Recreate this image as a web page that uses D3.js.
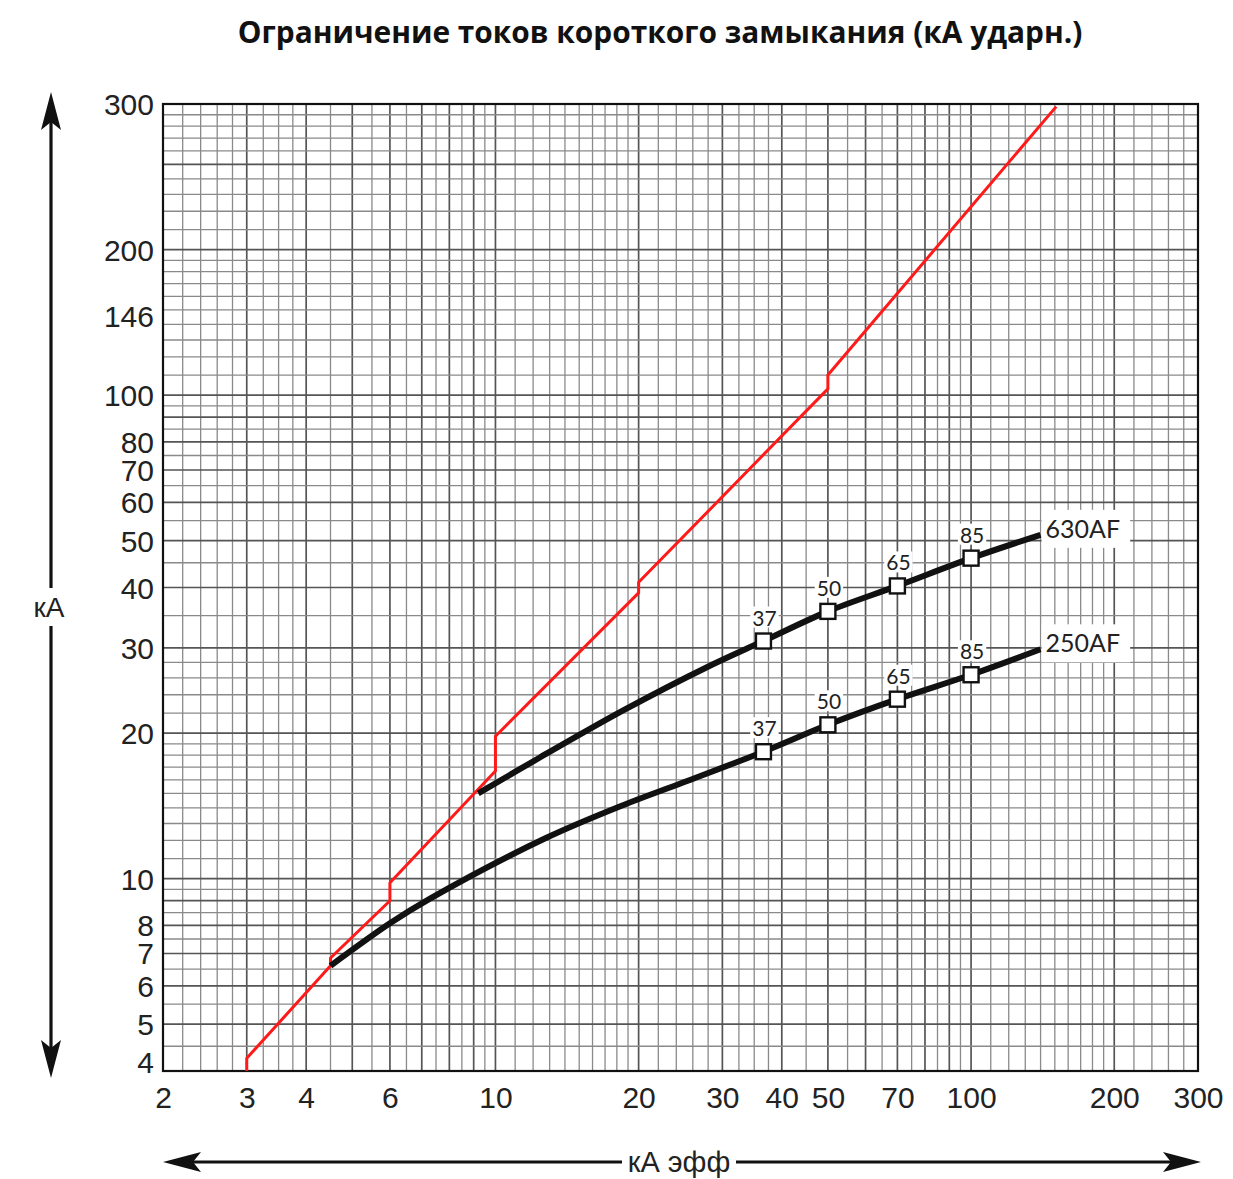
<!DOCTYPE html>
<html>
<head>
<meta charset="utf-8">
<script src="https://cdn.jsdelivr.net/npm/d3@7"></script>
<style>
  html, body { margin: 0; padding: 0; background: #fff; }
  svg { display: block; }
</style>
</head>
<body>
<svg id="chart" width="1233" height="1179"></svg>
<script>
// ---------- data ----------
const xTickValues = [2, 3, 4, 6, 10, 20, 30, 40, 50, 70, 100, 200, 300];
const yTickValues = [4, 5, 6, 7, 8, 10, 20, 30, 40, 50, 60, 70, 80, 100, 146, 200, 400];
const yTickLabels = ["4", "5", "6", "7", "8", "10", "20", "30", "40", "50", "60", "70", "80", "100", "146", "200", "300"];

// red peak-factor line (kA rms -> kA peak)
const redX = [3, 3, 4.5, 4.5, 6, 6, 10, 10, 20, 20, 50, 50, 151];
const redY = [4.0, 4.25, 6.6, 6.85, 9.0, 9.8, 16.7, 19.7, 39.0, 41.0, 103, 110, 395];

// 630AF limited current
const af630X = [9.2, 12.4, 18.6, 27.9, 36.6, 50, 70, 100, 140];
const af630Y = [15.0, 17.8, 22.3, 27.4, 31.0, 35.7, 40.3, 46.0, 51.4];

// 250AF limited current
const af250X = [4.5, 6.0, 7.3, 12.7, 18.6, 24.8, 36.6, 50, 70, 100, 140];
const af250Y = [6.6, 8.08, 9.1, 12.1, 14.2, 15.8, 18.3, 20.8, 23.5, 26.4, 29.8];

// markers
const markerX = [36.6, 50, 70, 100];
const markerLabels = ["37", "50", "65", "85"];
const marker630Y = [31.0, 35.7, 40.3, 46.0];
const marker250Y = [18.3, 20.8, 23.5, 26.4];

const seriesNames = ["630AF", "250AF"];
const titleText = "Ограничение токов короткого замыкания (кА ударн.)";
const xTitle = "кА эфф";
const yTitle = "кА";

// ---------- layout ----------
const svg = d3.select("#chart");
const M = { l: 163, r: 1198, t: 104, b: 1071 };
const x = d3.scaleLog().domain([2, 300]).range([M.l, M.r]);
const y = d3.scaleLog().domain([4, 400]).range([M.b, M.t]);

// grid subdivision rules (graph paper), per decade
function gridValues(domain, rulesFor) {
  const out = [];
  for (let d = 1; d <= 1000; d *= 10) {
    rulesFor(d).forEach(([a, b, s]) => {
      for (let m = a; m < b - 1e-9; m += s) {
        const v = +(m * d).toPrecision(6);
        if (v > domain[0] * 1.0001 && v < domain[1] * 0.9999) {
          out.push({ v, major: Math.abs(m - Math.round(m)) < 1e-6 });
        }
      }
    });
  }
  return out;
}
const xGrid = gridValues(x.domain(), d => [[1, 2, 0.1], [2, 3, 0.2], [3, 4, 0.25], [4, 10, 0.5]]);
const yGrid = gridValues(y.domain(), d => d === 100
  ? [[1, 2, 0.1], [2, 4, 0.2], [4, 10, 0.5]]
  : [[1, 2, 0.1], [2, 3, 0.2], [3, 10, 0.5]]);

const minorC = "#8a8a8a", majorC = "#555";
const grid = svg.append("g");
grid.selectAll("line.vx").data(xGrid).join("line")
  .attr("x1", d => x(d.v)).attr("x2", d => x(d.v))
  .attr("y1", M.t).attr("y2", M.b)
  .attr("stroke", d => d.major ? majorC : minorC)
  .attr("stroke-width", d => d.major ? 1.7 : 1.3);
grid.selectAll("line.hy").data(yGrid).join("line")
  .attr("x1", M.l).attr("x2", M.r)
  .attr("y1", d => y(d.v)).attr("y2", d => y(d.v))
  .attr("stroke", d => d.major ? majorC : minorC)
  .attr("stroke-width", d => d.major ? 1.7 : 1.3);

// frame
svg.append("rect")
  .attr("x", M.l).attr("y", M.t)
  .attr("width", M.r - M.l).attr("height", M.b - M.t)
  .attr("fill", "none").attr("stroke", "#111").attr("stroke-width", 2.2);

// ---------- axes ----------
const tickFont = "'Liberation Sans', Arial, sans-serif";
const xAxis = svg.append("g")
  .attr("transform", `translate(0,${M.b + 16})`)
  .call(d3.axisBottom(x).tickValues(xTickValues).tickFormat(d => String(d)).tickSize(0));
xAxis.select(".domain").remove();
xAxis.selectAll("text")
  .attr("font-family", tickFont).attr("font-size", 30).attr("fill", "#222")
  .attr("dy", "0.71em").attr("y", 0);

const yAxis = svg.append("g")
  .attr("transform", `translate(${M.l - 9},0)`)
  .call(d3.axisLeft(y).tickValues(yTickValues).tickFormat((d, i) => yTickLabels[i]).tickSize(0));
yAxis.select(".domain").remove();
yAxis.selectAll("text")
  .attr("font-family", tickFont).attr("font-size", 30).attr("fill", "#222")
  .attr("x", 0).attr("dy", (d, i) => i === 0 ? "0.05em" : "0.35em");

// ---------- curves ----------
const lineGen = d3.line().x(d => x(d[0])).y(d => y(d[1]));
const smooth = d3.line().x(d => x(d[0])).y(d => y(d[1])).curve(d3.curveCatmullRom.alpha(0.5));

svg.append("path")
  .datum(redX.map((v, i) => [v, redY[i]]))
  .attr("d", lineGen)
  .attr("fill", "none").attr("stroke", "#ff1a1a").attr("stroke-width", 3)
  .attr("stroke-linejoin", "round");

const curves = [
  { name: seriesNames[0], xs: af630X, ys: af630Y, my: marker630Y },
  { name: seriesNames[1], xs: af250X, ys: af250Y, my: marker250Y }
];

const labelFont = "Lato, 'Open Sans', sans-serif";

curves.forEach(c => {
  svg.append("path")
    .datum(c.xs.map((v, i) => [v, c.ys[i]]))
    .attr("d", smooth)
    .attr("fill", "none").attr("stroke", "#111").attr("stroke-width", 6)
    .attr("stroke-linecap", "butt");
});

curves.forEach(c => {
  const g = svg.append("g");
  markerX.forEach((mx, i) => {
    const px = x(mx), py = y(c.my[i]);
    g.append("rect")
      .attr("x", px - 7.5).attr("y", py - 7.5)
      .attr("width", 15).attr("height", 15)
      .attr("fill", "#fff").attr("stroke", "#111").attr("stroke-width", 2.4);
    const t = g.append("text")
      .attr("x", px + 1).attr("y", py - 24)
      .attr("text-anchor", "middle").attr("dominant-baseline", "central")
      .attr("font-family", labelFont).attr("font-size", 21).attr("fill", "#222")
      .text(markerLabels[i]);
    const bb = t.node().getBBox();
    g.insert("rect", "text")
      .attr("x", bb.x - 2).attr("y", bb.y + 2)
      .attr("width", bb.width + 4).attr("height", bb.height - 4)
      .attr("fill", "#fff");
  });
  const lx = x(c.xs[c.xs.length - 1]) + 5;
  const ly = y(c.ys[c.ys.length - 1]) - 7;
  const bg = svg.append("rect");
  const t = svg.append("text")
    .attr("x", lx).attr("y", ly)
    .attr("dominant-baseline", "central")
    .attr("font-family", labelFont).attr("font-size", 25).attr("fill", "#222")
    .text(c.name);
  const bb = t.node().getBBox();
  bg.attr("x", bb.x - 4).attr("y", bb.y - 3)
    .attr("width", bb.width + 14).attr("height", bb.height + 8)
    .attr("fill", "#fff");
});

// ---------- title ----------
const title = svg.append("text")
  .attr("x", 660).attr("y", 31)
  .attr("text-anchor", "middle").attr("dominant-baseline", "central")
  .attr("font-family", "'Open Sans', sans-serif").attr("font-weight", 700)
  .attr("font-size", 25).attr("fill", "#111")
  .text(titleText);
const tw = title.node().getComputedTextLength();
title.attr("font-size", 25 * 845 / tw);

// ---------- axis arrows ----------
function arrowHead(tipX, tipY, angleDeg) {
  const pts = [[0, 0], [-38, -10], [-30, 0], [-38, 10]];
  const a = angleDeg * Math.PI / 180;
  const p = pts.map(([u, v]) => [tipX + u * Math.cos(a) - v * Math.sin(a), tipY + u * Math.sin(a) + v * Math.cos(a)]);
  svg.append("path").attr("d", "M" + p.map(q => q.join(",")).join("L") + "Z").attr("fill", "#111");
}
const arrowStroke = 3.2;
const ax = 51;
svg.append("line").attr("x1", ax).attr("x2", ax).attr("y1", 115).attr("y2", 588)
  .attr("stroke", "#111").attr("stroke-width", arrowStroke);
svg.append("line").attr("x1", ax).attr("x2", ax).attr("y1", 626).attr("y2", 1055)
  .attr("stroke", "#111").attr("stroke-width", arrowStroke);
arrowHead(ax, 92, -90);
arrowHead(ax, 1078, 90);
svg.append("text").attr("x", ax - 2).attr("y", 607)
  .attr("text-anchor", "middle").attr("dominant-baseline", "central")
  .attr("font-family", tickFont).attr("font-size", 28).attr("fill", "#222")
  .text(yTitle);

const ay = 1162;
svg.append("line").attr("x1", 185).attr("x2", 622).attr("y1", ay).attr("y2", ay)
  .attr("stroke", "#111").attr("stroke-width", arrowStroke);
svg.append("line").attr("x1", 736).attr("x2", 1180).attr("y1", ay).attr("y2", ay)
  .attr("stroke", "#111").attr("stroke-width", arrowStroke);
arrowHead(163, ay, 180);
arrowHead(1201, ay, 0);
svg.append("text").attr("x", 679).attr("y", ay)
  .attr("text-anchor", "middle").attr("dominant-baseline", "central")
  .attr("font-family", tickFont).attr("font-size", 29).attr("fill", "#222")
  .text(xTitle);
</script>
</body>
</html>
